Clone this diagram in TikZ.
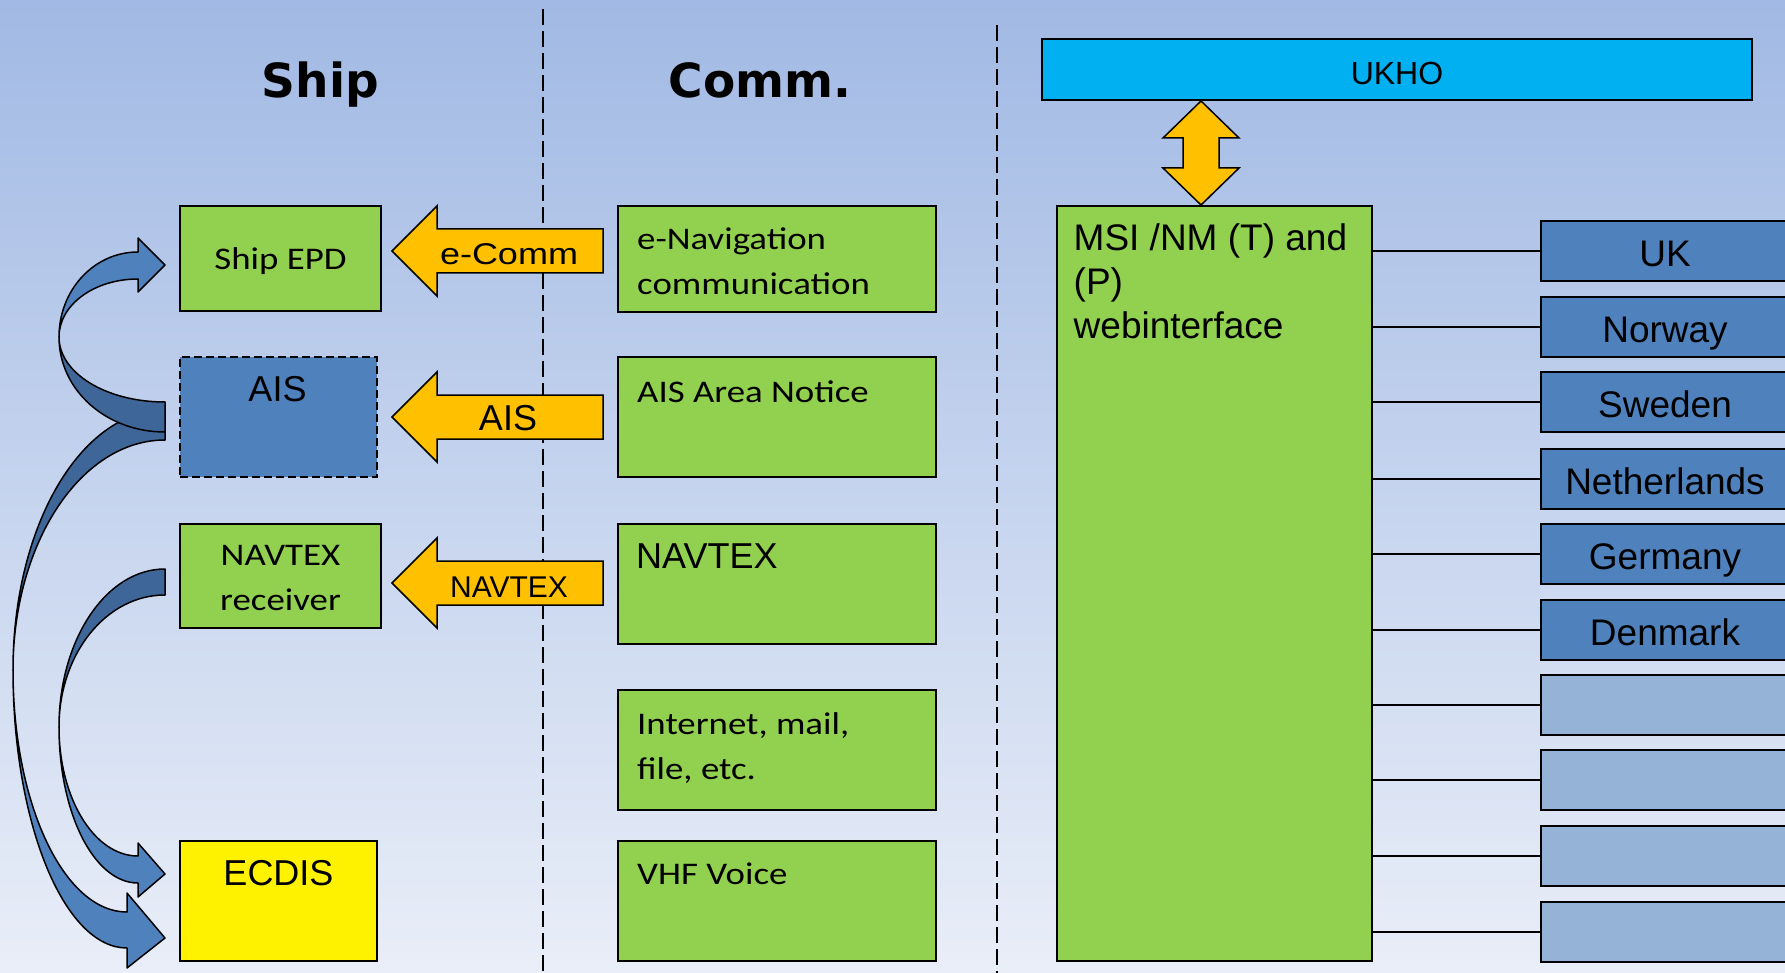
\documentclass[tikz,border=0pt]{standalone}
\usepackage{fontspec}
\setmainfont{Liberation Sans}
\newfontfamily\calfont[FakeStretch=1.17]{Carlito}
\newfontfamily\headfont{DejaVu Sans}
\newfontfamily\widefont[FakeStretch=1.2]{Liberation Sans}
\usepackage{tikz}
\usepackage{color}

\definecolor{boxgreen}{RGB}{146,208,80}
\definecolor{boxblue}{RGB}{79,129,189}
\definecolor{backblue}{RGB}{63,102,152}
\definecolor{spareblue}{RGB}{149,179,215}
\definecolor{ukhoblue}{RGB}{0,176,240}
\definecolor{commorange}{RGB}{255,192,0}
\definecolor{bgtop}{RGB}{161,185,228}
\definecolor{bgbottom}{RGB}{233,238,248}

\begin{document}
\begin{tikzpicture}[x=1pt, y=-1pt]
  \tikzset{box/.style={rectangle, draw, line width=2pt, inner sep=0pt}}
  \tikzset{greenbox/.style={box, fill=boxgreen}}
  \tikzset{countrybox/.style={box, minimum width=248pt, minimum height=60pt,
      text height=31pt, text depth=0pt, font=\fontsize{37}{44}\selectfont}}
  \tikzset{heading/.style={inner sep=0pt, font=\headfont\bfseries\fontsize{47}{56}\selectfont}}
  \tikzset{caltext/.style={inner sep=0pt, align=left, font=\calfont\fontsize{31.5}{45}\selectfont}}
  \tikzset{arialtext/.style={inner sep=0pt, align=left, font=\fontsize{36}{44}\selectfont}}
  \tikzset{sepline/.style={line width=2pt, dash pattern=on 16pt off 6pt}}
  \tikzset{commarrow/.style={fill=commorange, draw, line width=1.5pt, line join=miter}}
  \tikzset{backface/.style={fill=backblue, draw, line width=1.5pt, line join=round}}
  \tikzset{frontface/.style={fill=boxblue, draw, line width=1.5pt, line join=round}}
  \tikzset{link/.style={line width=2pt}}

  \useasboundingbox (0,0) rectangle (1785,973);
  \clip (0,0) rectangle (1785,973);
  \shade[top color=bgtop, bottom color=bgbottom] (0,0) rectangle (1785,973);

  \draw[sepline] (543,9) -- (543,973);
  \draw[sepline] (997,25) -- (997,973);

  \node[heading, anchor=base] (shiphead) at (320.5,98) {Ship};
  \node[heading, anchor=base] (commhead) at (760,98) {Comm.};

  % ship side
  \node[greenbox, minimum width=201pt, minimum height=105pt] (shipepd) at (280.5,258.5) {};
  \node[box, fill=boxblue, dash pattern=on 8pt off 4pt, minimum width=197pt, minimum height=120pt] (ais) at (278.5,417) {};
  \node[greenbox, minimum width=201pt, minimum height=104pt] (navrx) at (280.5,576) {};
  \node[box, fill=yellow, minimum width=197pt, minimum height=120pt] (ecdis) at (278.5,901) {};

  \node[caltext, anchor=base] (shipepdtxt) at ([shift={(0,11)}]shipepd.center) {Ship EPD};
  \node[arialtext, anchor=base] (aistxt) at ([shift={(-1,45)}]ais.north) {AIS};
  \node[caltext, align=center, anchor=base] (navrxtxt) at ([shift={(0,87)}]navrx.north) {NAVTEX\\receiver};
  \node[arialtext, anchor=base] (ecdistxt) at ([shift={(0,45)}]ecdis.north) {ECDIS};

  % comm side
  \node[greenbox, minimum width=318pt, minimum height=106pt] (enav) at (777,259) {};
  \node[greenbox, minimum width=318pt, minimum height=120pt] (aisnotice) at (777,417) {};
  \node[greenbox, minimum width=318pt, minimum height=120pt] (navtex) at (777,584) {};
  \node[greenbox, minimum width=318pt, minimum height=120pt] (internet) at (777,750) {};
  \node[greenbox, minimum width=318pt, minimum height=120pt] (vhf) at (777,901) {};

  \node[caltext, anchor=base west] (enavtxt) at ([shift={(20,90)}]enav.north west) {e-Navigation\\communication};
  \node[caltext, anchor=base west] (aisnoticetxt) at ([shift={(20,46)}]aisnotice.north west) {AIS Area Notice};
  \node[arialtext, anchor=base west] (navtextxt) at ([shift={(19,45)}]navtex.north west) {NAVTEX};
  \node[caltext, anchor=base west] (internettxt) at ([shift={(20,90)}]internet.north west) {Internet, mail,\\file, etc.};
  \node[caltext, anchor=base west] (vhftxt) at ([shift={(20,44)}]vhf.north west) {VHF Voice};

  % comm arrows
  \coordinate (ecommtip) at (392,251);
  \coordinate (aistip) at (392,417);
  \coordinate (navtextip) at (392,583);
  \draw[commarrow] (ecommtip) -- ++(45,-45) -- ++(0,23) -- ++(166,0) -- ++(0,44) -- ++(-166,0) -- ++(0,23) -- cycle;
  \draw[commarrow] (aistip) -- ++(45,-45) -- ++(0,23) -- ++(166,0) -- ++(0,44) -- ++(-166,0) -- ++(0,23) -- cycle;
  \draw[commarrow] (navtextip) -- ++(45,-45) -- ++(0,23) -- ++(166,0) -- ++(0,44) -- ++(-166,0) -- ++(0,23) -- cycle;
  \node[inner sep=0pt, anchor=base, font=\widefont\fontsize{30}{36}\selectfont] (ecommlbl) at (509,265) {e-Comm};
  \node[inner sep=0pt, anchor=base, font=\fontsize{36}{44}\selectfont] (aislbl) at (508,430) {AIS};
  \node[inner sep=0pt, anchor=base, font=\fontsize{30}{36}\selectfont] (navtexlbl) at (509,597) {NAVTEX};

  % curved arrows
  \draw[backface] (165,410) .. controls (81,410) and (13,526) .. (13,670) .. controls (13,543) and (81,440) .. (165,440) -- cycle;
  \draw[frontface] (13,670) .. controls (13,823) and (64,948) .. (127,948) -- (127,968) -- (165,938) -- (127,893) -- (127,912) .. controls (64,912) and (13,804) .. (13,670) -- cycle;
  \draw[backface] (165,569) .. controls (106,569) and (59,640) .. (59,727) .. controls (59,654) and (106,595) .. (165,595) -- cycle;
  \draw[frontface] (59,727) .. controls (59,813) and (94,883) .. (138,883) -- (138,897) -- (165,874) -- (138,843) -- (138,856) .. controls (94,856) and (59,798) .. (59,727) -- cycle;
  \draw[backface] (165,402) .. controls (106,402) and (59,373) .. (59,337) .. controls (59,390) and (106,432) .. (165,432) -- cycle;
  \draw[frontface] (59,337) .. controls (59,290) and (94,252) .. (138,252) -- (138,238) -- (165,265) -- (138,292) -- (138,279) .. controls (94,279) and (59,305) .. (59,337) -- cycle;

  % shore side
  \node[box, fill=ukhoblue, minimum width=710pt, minimum height=61pt] (ukho) at (1397,69.5) {};
  \node[inner sep=0pt, anchor=base, font=\fontsize{32}{38}\selectfont] (ukhotxt) at ([shift={(0,15)}]ukho.center) {UKHO};
  \node[greenbox, minimum width=315pt, minimum height=755pt] (msi) at (1214.5,583.5) {};
  \node[inner sep=0pt, anchor=base west, align=left, font=\fontsize{37}{44}\selectfont] (msitxt) at ([shift={(17.5,134)}]msi.north west) {MSI /NM (T) and\\(P)\\webinterface};

  \path (ukho.south -| 1201,0) coordinate (ukhoend) (msi.north -| 1201,0) coordinate (msiend);
  \draw[commarrow] (ukhoend) -- ++(38,37) -- ++(-20,0) -- ++(0,30) -- ++(20,0) -- (msiend) -- ++(-38,-37) -- ++(20,0) -- ++(0,-30) -- ++(-20,0) -- cycle;

  \node[countrybox, fill=boxblue] (uk) at (1665,251) {UK};
  \node[countrybox, fill=boxblue] (norway) at (1665,327) {Norway};
  \node[countrybox, fill=boxblue] (sweden) at (1665,402) {Sweden};
  \node[countrybox, fill=boxblue] (netherlands) at (1665,479) {Netherlands};
  \node[countrybox, fill=boxblue] (germany) at (1665,554) {Germany};
  \node[countrybox, fill=boxblue] (denmark) at (1665,630) {Denmark};
  \node[countrybox, fill=spareblue] (spareA) at (1665,705) {};
  \node[countrybox, fill=spareblue] (spareB) at (1665,780) {};
  \node[countrybox, fill=spareblue] (spareC) at (1665,856) {};
  \node[countrybox, fill=spareblue] (spareD) at (1665,932) {};

  \draw[link] (uk.west) -- (uk.west -| msi.east);
  \draw[link] (norway.west) -- (norway.west -| msi.east);
  \draw[link] (sweden.west) -- (sweden.west -| msi.east);
  \draw[link] (netherlands.west) -- (netherlands.west -| msi.east);
  \draw[link] (germany.west) -- (germany.west -| msi.east);
  \draw[link] (denmark.west) -- (denmark.west -| msi.east);
  \draw[link] (spareA.west) -- (spareA.west -| msi.east);
  \draw[link] (spareB.west) -- (spareB.west -| msi.east);
  \draw[link] (spareC.west) -- (spareC.west -| msi.east);
  \draw[link] (spareD.west) -- (spareD.west -| msi.east);
\end{tikzpicture}
\end{document}
